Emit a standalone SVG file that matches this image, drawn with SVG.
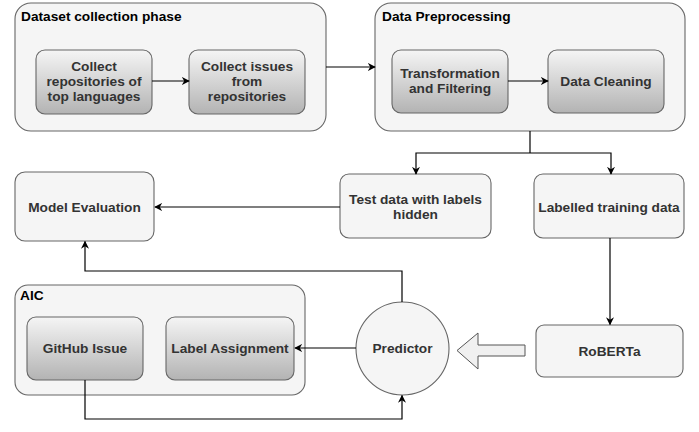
<svg xmlns="http://www.w3.org/2000/svg" width="699" height="432" viewBox="0 0 699 432">
<defs>
<linearGradient id="g" x1="0" y1="0" x2="0" y2="1">
<stop offset="0" stop-color="#f5f5f5"/>
<stop offset="1" stop-color="#b3b3b3"/>
</linearGradient>
<marker id="ah" viewBox="0 0 10 10" refX="9" refY="5" markerWidth="8" markerHeight="8" markerUnits="userSpaceOnUse" orient="auto">
<path d="M0,0 L10,5 L0,10 L3,5 Z" fill="#000"/>
</marker>
</defs>
<style>
.outer{fill:#f5f5f5;stroke:#666;stroke-width:1.1}
.inner{fill:url(#g);stroke:#666;stroke-width:1.1}
.plain{fill:#f5f5f5;stroke:#666;stroke-width:1.1}
text{font-family:"Liberation Sans",Arial,sans-serif;font-weight:bold;font-size:13.7px;fill:#333}
.c{text-anchor:middle}
.title{fill:#000}
.edge{fill:none;stroke:#000;stroke-width:1.2;marker-end:url(#ah)}
.line{fill:none;stroke:#000;stroke-width:1.2}
</style>
<g id="dataset-collection">
<rect class="outer" x="15" y="3" width="311" height="128" rx="16"/>
<text class="title" x="21" y="21">Dataset collection phase</text>
</g>
<g id="collect-repos">
<rect class="inner" x="36" y="50" width="116" height="64" rx="9"/>
<text class="c" x="94" y="71">Collect</text>
<text class="c" x="94" y="86">repositories of</text>
<text class="c" x="94" y="101">top languages</text>
</g>
<g id="collect-issues">
<rect class="inner" x="189" y="50" width="116" height="64" rx="9"/>
<text class="c" x="247" y="71">Collect issues</text>
<text class="c" x="247" y="86">from</text>
<text class="c" x="247" y="101">repositories</text>
</g>
<g id="data-preprocessing">
<rect class="outer" x="375" y="3" width="310" height="128" rx="16"/>
<text class="title" x="382" y="21">Data Preprocessing</text>
</g>
<g id="transformation">
<rect class="inner" x="392" y="50" width="116" height="63" rx="9"/>
<text class="c" x="450" y="78">Transformation</text>
<text class="c" x="450" y="93">and Filtering</text>
</g>
<g id="data-cleaning">
<rect class="inner" x="548" y="50" width="116" height="63" rx="9"/>
<text class="c" x="606" y="86">Data Cleaning</text>
</g>
<g id="model-evaluation">
<rect class="plain" x="15" y="172" width="139" height="69" rx="10"/>
<text class="c" x="84.5" y="212">Model Evaluation</text>
</g>
<g id="test-data">
<rect class="plain" x="340" y="174" width="151" height="64" rx="9"/>
<text class="c" x="415.5" y="204">Test data with labels</text>
<text class="c" x="415.5" y="219">hidden</text>
</g>
<g id="labelled-training">
<rect class="plain" x="534" y="174" width="150" height="64" rx="9"/>
<text class="c" x="609" y="212">Labelled training data</text>
</g>
<g id="aic">
<rect class="outer" x="15" y="285" width="290" height="110" rx="13"/>
<text class="title" x="20" y="300">AIC</text>
</g>
<g id="github-issue">
<rect class="inner" x="27" y="317" width="116" height="63" rx="9"/>
<text class="c" x="85" y="353">GitHub Issue</text>
</g>
<g id="label-assignment">
<rect class="inner" x="166" y="317" width="128" height="63" rx="9"/>
<text class="c" x="230" y="353">Label Assignment</text>
</g>
<g id="predictor">
<circle class="plain" cx="402.5" cy="348.5" r="46.5"/>
<text class="c" x="402.5" y="353">Predictor</text>
</g>
<g id="roberta">
<rect class="plain" x="536" y="325" width="147" height="52" rx="8"/>
<text class="c" x="609.5" y="356">RoBERTa</text>
</g>
<g id="connectors">
<path class="edge" d="M152,81 L189,81"/>
<path class="edge" d="M326,67 L375,67"/>
<path class="edge" d="M508,81 L548,81"/>
<path class="line" d="M530,131 L530,153"/>
<path class="edge" d="M530,153 L416,153 L416,174"/>
<path class="edge" d="M530,153 L611,153 L611,174"/>
<path class="edge" d="M340,207 L155,207"/>
<path class="edge" d="M402,302 L402,271 L85,271 L85,241.5"/>
<path class="edge" d="M610,238 L610,324.5"/>
<path class="edge" d="M356,348 L295,348"/>
<path class="edge" d="M85,380 L85,419 L402,419 L402,395.5"/>
<path d="M525,345 L478,345 L478,333 L457,350.5 L478,369 L478,356 L525,356 Z" fill="#f0f0f0" stroke="#555" stroke-width="1"/>
</g>
</svg>
